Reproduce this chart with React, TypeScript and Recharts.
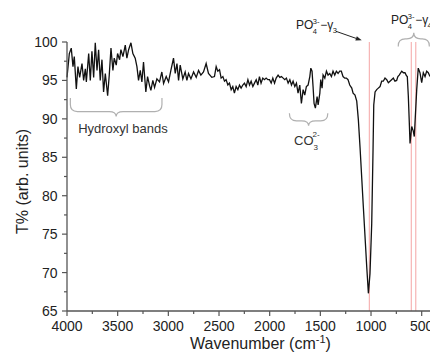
import { LineChart, Line, XAxis, YAxis, ReferenceLine, ReferenceArea, ReferenceDot } from 'recharts';

const FONT = '"Liberation Sans", Arial, Helvetica, sans-serif';
const AXIS = '#555';
const INK = '#222';
const BRACE = '#b0b0b0';
const MARKER = '#f4a4a4';

// FTIR spectrum (cm-1, T%)
const wavenumbers = [
  4000, 3977, 3958, 3941, 3928, 3908, 3892, 3875, 3852, 3836, 3819, 3809, 3786, 3770, 3754, 3737,
  3721, 3704, 3688, 3672, 3655, 3639, 3622, 3599, 3583, 3566, 3547, 3534, 3514, 3501, 3481, 3468,
  3448, 3425, 3409, 3392, 3369, 3350, 3327, 3310, 3294, 3277, 3261, 3245, 3222, 3205, 3185, 3172,
  3153, 3136, 3113, 3087, 3064, 3047, 3021, 2998, 2975, 2949, 2932, 2915, 2899, 2883, 2857, 2834,
  2817, 2801, 2777, 2751, 2725, 2702, 2679, 2653, 2627, 2604, 2571, 2545, 2528, 2512, 2495, 2479,
  2462, 2446, 2430, 2413, 2397, 2380, 2364, 2348, 2331, 2314, 2298, 2282, 2265, 2249, 2232, 2215,
  2199, 2183, 2166, 2150, 2133, 2117, 2101, 2085, 2068, 2052, 2035, 2018, 2002, 1985, 1969, 1952,
  1936, 1917, 1900, 1884, 1867, 1851, 1835, 1818, 1801, 1785, 1769, 1752, 1736, 1720, 1703, 1687,
  1670, 1654, 1638, 1621, 1604, 1594, 1582, 1572, 1562, 1549, 1532, 1522, 1505, 1496, 1483, 1473,
  1456, 1440, 1424, 1407, 1391, 1375, 1358, 1342, 1325, 1309, 1293, 1276, 1259, 1243, 1227, 1210,
  1190, 1177, 1158, 1141, 1125, 1108, 1076, 1042, 1026, 1010, 993, 980, 973, 960, 944, 928,
  911, 895, 879, 862, 845, 829, 813, 797, 780, 764, 747, 735, 722, 697, 680, 665,
  650, 642, 632, 622, 615, 606, 598, 583, 573, 549, 534, 517, 500, 484, 467, 451,
  435, 418,
];
const transmittance = [
  95.4, 98.5, 99.2, 96.8, 98.1, 93.9, 96.8, 95.4, 97.2, 95.0, 96.5, 94.8, 98.5, 95.0, 98.8, 95.4,
  99.9, 96.3, 99.0, 95.0, 97.7, 93.5, 95.9, 93.0, 95.7, 99.2, 96.3, 97.9, 97.0, 98.5, 97.7, 99.0,
  98.1, 99.6, 97.9, 99.0, 99.9, 98.5, 97.9, 96.8, 95.0, 96.3, 94.8, 97.4, 93.5, 95.5, 94.3, 93.7,
  95.0, 94.1, 95.2, 94.8, 96.1, 94.6, 95.5, 94.8, 96.3, 97.9, 95.9, 97.2, 95.0, 97.0, 95.2, 96.1,
  95.0, 95.9, 95.2, 96.1, 95.4, 96.3, 95.7, 96.1, 97.2, 95.9, 95.4, 95.5, 96.8, 96.2, 96.4, 95.3,
  95.5, 94.9, 95.1, 94.4, 94.65, 93.8, 94.2, 93.35, 94.2, 93.8, 94.4, 94.0, 94.4, 94.65, 94.2, 95.1,
  94.4, 94.9, 94.2, 94.65, 95.1, 94.4, 95.5, 94.65, 95.3, 95.1, 95.3, 95.1, 95.1, 94.65, 95.3, 94.65,
  95.3, 95.7, 95.4, 95.5, 95.3, 95.1, 95.3, 94.65, 95.1, 94.4, 94.9, 94.2, 94.65, 93.35, 94.4, 92.0,
  93.8, 93.1, 94.2, 94.4, 95.5, 96.6, 96.2, 94.2, 92.0, 91.4, 92.9, 91.8, 93.35, 95.1, 94.0, 95.7,
  95.3, 96.2, 95.7, 95.9, 95.5, 96.2, 95.7, 96.2, 95.9, 96.2, 96.2, 95.5, 95.3, 95.3, 95.1, 94.4,
  94.0, 93.35, 93.1, 92.3, 89.9, 86.2, 78.6, 70.7, 67.3, 69.9, 76.4, 86.0, 91.8, 93.5, 93.8, 94.0,
  94.2, 94.9, 94.9, 95.3, 95.1, 94.7, 94.9, 95.1, 95.3, 94.9, 95.0, 95.5, 95.7, 96.2, 96.0, 96.0,
  95.6, 95.5, 93.0, 89.4, 86.8, 88.0, 89.0, 88.4, 87.7, 93.8, 96.6, 96.0, 94.7, 96.0, 95.5, 96.2,
  96.0, 95.5,
];

const xTicks = [4000, 3750, 3500, 3250, 3000, 2750, 2500, 2250, 2000, 1750, 1500, 1250, 1000, 750, 500];
const yTicks = [65, 67.5, 70, 72.5, 75, 77.5, 80, 82.5, 85, 87.5, 90, 92.5, 95, 97.5, 100];
const xLabelled = [4000, 3500, 3000, 2500, 2000, 1500, 1000, 500];
const yLabelled = [65, 70, 75, 80, 85, 90, 95, 100];

// band positions marked with thin red lines
const markerLines = [1017, 603, 558];

const data = wavenumbers.map((wn, i) => ({ wn, t: transmittance[i] }));

const XTick = (props: any) => {
  const { x, y, payload } = props;
  const major = xLabelled.includes(payload.value);
  return (
    <g>
      <line x1={x} x2={x} y1={y} y2={y + (major ? 5 : 3)} stroke={AXIS} strokeWidth={1.2} />
      {major && (
        <text x={x} y={y + 19.5} textAnchor="middle" fontSize={14} fill={INK} fontFamily={FONT}>
          {payload.value}
        </text>
      )}
    </g>
  );
};

const YTick = (props: any) => {
  const { x, y, payload } = props;
  const major = yLabelled.includes(payload.value);
  return (
    <g>
      <line x1={x} x2={x - (major ? 5 : 3)} y1={y} y2={y} stroke={AXIS} strokeWidth={1.2} />
      {major && (
        <text x={x - 9.5} y={y + 5} textAnchor="end" fontSize={14} fill={INK} fontFamily={FONT}>
          {payload.value}
        </text>
      )}
    </g>
  );
};

const XTitle = (props: any) => {
  const { viewBox } = props;
  return (
    <text x={viewBox.x + viewBox.width / 2 + 12} y={viewBox.y + 38} textAnchor="middle" fontSize={16} fill={INK} fontFamily={FONT}>
      Wavenumber (cm<tspan dy={-6} fontSize={11}>-1</tspan><tspan dy={6}>)</tspan>
    </text>
  );
};

const YTitle = (props: any) => {
  const { viewBox } = props;
  const cx = viewBox.x + 28;
  const cy = viewBox.y + viewBox.height / 2 + 5;
  return (
    <text x={cx} y={cy} transform={`rotate(-90 ${cx} ${cy})`} textAnchor="middle" fontSize={16} fill={INK} fontFamily={FONT}>
      T% (arb. units)
    </text>
  );
};

// curly brace drawn inside the reference area; tip points down unless "up"
const Brace = (props: any) => {
  const { x, y, width, height, up } = props;
  const tip = up ? 6 : 5;
  const x1 = x + width;
  const cx = x + width / 2;
  let d;
  if (!up) {
    const y0 = y;
    const ym = y + height - tip;
    const y2 = y + height;
    const r = Math.min(7, ym - y0);
    d = `M${x},${y0} L${x},${ym - r} Q${x},${ym} ${x + r},${ym} L${cx - r},${ym} Q${cx},${ym} ${cx},${y2} ` +
      `Q${cx},${ym} ${cx + r},${ym} L${x1 - r},${ym} Q${x1},${ym} ${x1},${ym - r} L${x1},${y0}`;
  } else {
    const y0 = y + height;
    const ym = y + tip;
    const y2 = y;
    const r = Math.min(7, y0 - ym);
    d = `M${x},${y0} L${x},${ym + r} Q${x},${ym} ${x + r},${ym} L${cx - r},${ym} Q${cx},${ym} ${cx},${y2} ` +
      `Q${cx},${ym} ${cx + r},${ym} L${x1 - r},${ym} Q${x1},${ym} ${x1},${ym + r} L${x1},${y0}`;
  }
  return <path d={d} fill="none" stroke={BRACE} strokeWidth={1.2} />;
};

const PoLabel = ({ cx, cy, sub, arrow }: any) => {
  const ax0 = cx + 40, ay0 = cy + 2.4, ax1 = cx + 65.7, ay1 = cy + 11.4;
  const len = Math.hypot(ax1 - ax0, ay1 - ay0);
  const ux = (ax1 - ax0) / len, uy = (ay1 - ay0) / len;
  const bx = ax1 - ux * 6, by = ay1 - uy * 6;
  return (
    <g fontFamily={FONT} fill={INK}>
      <text x={cx} y={cy} fontSize={12}>PO</text>
      <text x={cx + 16.8} y={cy - 5} fontSize={7.5}>3-</text>
      <text x={cx + 16.8} y={cy + 5.5} fontSize={7.5}>4</text>
      <text x={cx + 24.2} y={cy} fontSize={12}>−γ</text>
      <text x={cx + 36.6} y={cy + 4} fontSize={7.5}>{sub}</text>
      {arrow && (
        <g>
          <line x1={ax0} y1={ay0} x2={bx} y2={by} stroke={INK} strokeWidth={1} />
          <polygon
            points={`${ax1},${ay1} ${bx - uy * 2.3},${by + ux * 2.3} ${bx + uy * 2.3},${by - ux * 2.3}`}
            fill={INK}
          />
        </g>
      )}
    </g>
  );
};

export default function App() {
  return (
    <div style={{ position: 'absolute', left: 0, top: 0, width: 430, height: 356, background: '#fff' }}>
      <LineChart width={430} height={356} data={data} margin={{ top: 42, right: 0, bottom: 0, left: 0 }}>
        <XAxis
          dataKey="wn"
          type="number"
          domain={[418, 4000]}
          reversed
          ticks={xTicks}
          interval={0}
          tickSize={0}
          tickMargin={0}
          tickLine={false}
          tick={<XTick />}
          axisLine={{ stroke: AXIS, strokeWidth: 1.3 }}
          height={45}
          label={<XTitle />}
        />
        <YAxis
          type="number"
          domain={[65, 100]}
          ticks={yTicks}
          interval={0}
          tickSize={0}
          tickMargin={0}
          tickLine={false}
          tick={<YTick />}
          axisLine={{ stroke: AXIS, strokeWidth: 1.3 }}
          width={67}
          label={<YTitle />}
        />
        {markerLines.map((m) => (
          <ReferenceLine key={m} x={m} stroke={MARKER} strokeWidth={1} />
        ))}
        <ReferenceArea x1={3967} x2={3063} y1={92.7} y2={90.3} ifOverflow="visible" shape={<Brace />} />
        <ReferenceArea x1={1805} x2={1427} y1={90.74} y2={89.09} ifOverflow="visible" shape={<Brace />} />
        <ReferenceArea x1={731} x2={425} y1={99.4} y2={101.2} ifOverflow="visible" shape={<Brace up />} />
        <ReferenceDot
          x={3448}
          y={88.17}
          r={0}
          ifOverflow="visible"
          shape={(p: any) => (
            <text x={p.cx} y={p.cy} textAnchor="middle" fontSize={13} fill="#333" fontFamily={FONT}>
              Hydroxyl bands
            </text>
          )}
        />
        <ReferenceDot
          x={1759}
          y={86.6}
          r={0}
          ifOverflow="visible"
          shape={(p: any) => (
            <g fontFamily={FONT} fill="#333">
              <text x={p.cx} y={p.cy} fontSize={13}>CO</text>
              <text x={p.cx + 18.5} y={p.cy - 7.5} fontSize={8}>2-</text>
              <text x={p.cx + 19.5} y={p.cy + 5} fontSize={8}>3</text>
            </g>
          )}
        />
        <ReferenceDot x={1740} y={101.7} r={0} ifOverflow="visible" shape={(p: any) => <PoLabel cx={p.cx} cy={p.cy} sub="3" arrow />} />
        <ReferenceDot x={803} y={102.39} r={0} ifOverflow="visible" shape={(p: any) => <PoLabel cx={p.cx} cy={p.cy} sub="4" />} />
        <Line
          type="linear"
          dataKey="t"
          stroke="#111"
          strokeWidth={1.3}
          dot={false}
          isAnimationActive={false}
        />
      </LineChart>
    </div>
  );
}
